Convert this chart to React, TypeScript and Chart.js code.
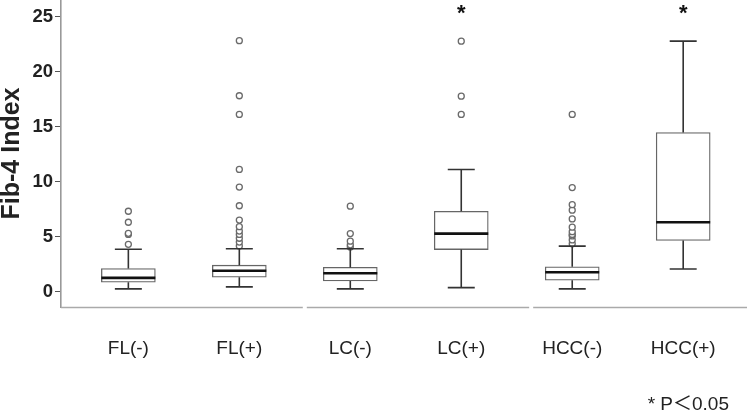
import React, { useEffect, useRef } from "react";
import { Chart, registerables } from "chart.js";

Chart.register(...registerables);

const categories = ["FL(-)", "FL(+)", "LC(-)", "LC(+)", "HCC(-)", "HCC(+)"];
const whiskerLow = [0.25, 0.43, 0.25, 0.36, 0.25, 2.06];
const q1 = [0.85, 1.3, 0.97, 3.82, 1.03, 4.64];
const median = [1.25, 1.9, 1.67, 5.27, 1.76, 6.3];
const q3 = [2.09, 2.4, 2.2, 7.3, 2.25, 14.45];
const whiskerHigh = [3.85, 3.9, 3.9, 11.1, 4.13, 22.76];
const outliersFLneg = [4.3, 5.2, 5.3, 6.3, 7.3];
const outliersFLpos = [4.15, 4.5, 4.85, 5.2, 5.5, 5.9, 6.5, 7.8, 9.5, 11.1, 16.1, 17.8, 22.8];
const outliersLCneg = [4.06, 4.25, 4.58, 5.27, 7.76];
const outliersLCpos = [16.1, 17.76, 22.76];
const outliersHCCneg = [4.34, 4.7, 5.06, 5.2, 5.45, 5.85, 6.6, 7.4, 7.9, 9.45, 16.1];
const outliersHCCpos: number[] = [];
const outliers = [outliersFLneg, outliersFLpos, outliersLCneg, outliersLCpos, outliersHCCneg, outliersHCCpos];
const significant = [false, false, false, true, false, true];
const starValue = 25.8;
const yTicks = [0, 5, 10, 15, 20, 25];
const groupBreaks = [1.59, 3.63];
const yTitle = "Fib-4 Index";
const footnote = "* P\uFF1C0.05";

const FONT = "'Liberation Sans', Arial, 'Noto Sans CJK JP', sans-serif";

const boxPlugin = {
  id: "boxExtras",
  afterDatasetsDraw(chart: any) {
    const { ctx, chartArea, scales } = chart;
    const xs = scales.x;
    const ys = scales.y;
    ctx.save();
    categories.forEach((_, i) => {
      const cx = xs.getPixelForValue(i);
      const capHalf = 13.5;
      ctx.strokeStyle = "#333";
      ctx.lineWidth = 1.6;
      ctx.beginPath();
      ctx.moveTo(cx, ys.getPixelForValue(q3[i]));
      ctx.lineTo(cx, ys.getPixelForValue(whiskerHigh[i]));
      ctx.moveTo(cx, ys.getPixelForValue(q1[i]));
      ctx.lineTo(cx, ys.getPixelForValue(whiskerLow[i]));
      ctx.moveTo(cx - capHalf, ys.getPixelForValue(whiskerHigh[i]));
      ctx.lineTo(cx + capHalf, ys.getPixelForValue(whiskerHigh[i]));
      ctx.moveTo(cx - capHalf, ys.getPixelForValue(whiskerLow[i]));
      ctx.lineTo(cx + capHalf, ys.getPixelForValue(whiskerLow[i]));
      ctx.stroke();
      const meta = chart.getDatasetMeta(0);
      const bar = meta.data[i];
      const half = bar ? bar.width / 2 : 27;
      ctx.strokeStyle = "#111";
      ctx.lineWidth = 2.6;
      ctx.beginPath();
      ctx.moveTo(cx - half, ys.getPixelForValue(median[i]));
      ctx.lineTo(cx + half, ys.getPixelForValue(median[i]));
      ctx.stroke();
      if (significant[i]) {
        ctx.fillStyle = "#111";
        ctx.font = `bold 22px ${FONT}`;
        ctx.textAlign = "center";
        ctx.textBaseline = "alphabetic";
        ctx.fillText("*", cx, ys.getPixelForValue(starValue) + 12.6);
      }
    });
    const bottom = chartArea.bottom + 0.5;
    const edges = [xs.min, ...groupBreaks, xs.max];
    ctx.strokeStyle = "#aaa";
    ctx.lineWidth = 1.6;
    ctx.beginPath();
    for (let k = 0; k < edges.length - 1; k++) {
      const a = xs.getPixelForValue(edges[k]) + (k === 0 ? 0 : 2);
      const b = xs.getPixelForValue(edges[k + 1]) - (k === edges.length - 2 ? 0 : 2);
      ctx.moveTo(a, bottom);
      ctx.lineTo(b, bottom);
    }
    ctx.stroke();
    ctx.fillStyle = "#222";
    ctx.font = `19px ${FONT}`;
    ctx.textAlign = "right";
    ctx.textBaseline = "alphabetic";
    ctx.fillText(footnote, 729, 410);
    ctx.restore();
  },
};

export default function App() {
  const ref = useRef<HTMLCanvasElement>(null);
  useEffect(() => {
    document.body.style.margin = "0";
    const canvas = ref.current!;
    const outlierPoints: { x: number; y: number }[] = [];
    outliers.forEach((arr, i) => arr.forEach((v) => outlierPoints.push({ x: i, y: v })));
    const chart = new Chart(canvas, {
      type: "bar",
      data: {
        datasets: [
          {
            type: "bar",
            data: categories.map((_, i) => ({ x: i, y: [q1[i], q3[i]] })) as any,
            backgroundColor: "#ffffff",
            borderColor: "#666",
            borderWidth: 1.3,
            borderSkipped: false,
            barThickness: 54,
            order: 2,
          } as any,
          {
            type: "scatter",
            data: outlierPoints,
            pointRadius: 3,
            pointBorderWidth: 1.3,
            borderColor: "#6a6a6a",
            backgroundColor: "#ffffff",
            pointBackgroundColor: "#ffffff",
            pointBorderColor: "#6a6a6a",
            clip: false,
            order: 1,
          } as any,
        ],
      },
      plugins: [boxPlugin],
      options: {
        responsive: false,
        animation: false,
        layout: { autoPadding: false, padding: { left: 0, right: 3, top: 0, bottom: 0 } },
        plugins: { legend: { display: false }, tooltip: { enabled: false }, title: { display: false } },
        scales: {
          x: {
            type: "linear",
            offset: false,
            min: -0.607,
            max: 5.575,
            grid: { display: false, drawTicks: false, offset: false },
            border: { display: false },
            afterBuildTicks: (axis: any) => {
              axis.ticks = categories.map((_, i) => ({ value: i }));
            },
            afterFit: (axis: any) => {
              axis.height = 105;
              axis.paddingLeft = 0;
              axis.paddingRight = 0;
            },
            ticks: {
              autoSkip: false,
              maxRotation: 0,
              padding: 30,
              color: "#222",
              font: { family: FONT, size: 19 },
              callback: (v: any) => categories[v] ?? "",
            },
          },
          y: {
            min: -1.4,
            max: 26.5,
            afterBuildTicks: (axis: any) => {
              axis.ticks = yTicks.map((v) => ({ value: v }));
            },
            afterFit: (axis: any) => {
              axis.width = 61;
              axis.paddingTop = 0;
              axis.paddingBottom = 0;
            },
            grid: { drawOnChartArea: false, drawTicks: true, tickLength: 6, color: "#555" },
            border: { display: true, color: "#999", width: 1.6 },
            ticks: {
              padding: 2,
              color: "#222",
              font: { family: FONT, size: 18.5, weight: "bold" },
            },
            title: {
              display: true,
              text: yTitle,
              color: "#222",
              padding: 0,
              font: { family: FONT, size: 25, weight: "bold", lineHeight: 1.0 },
            },
          },
        },
      },
    } as any);
    return () => chart.destroy();
  }, []);
  return (
    <div style={{ width: 750, height: 412, background: "#fff" }}>
      <canvas ref={ref} width={750} height={412} />
    </div>
  );
}
